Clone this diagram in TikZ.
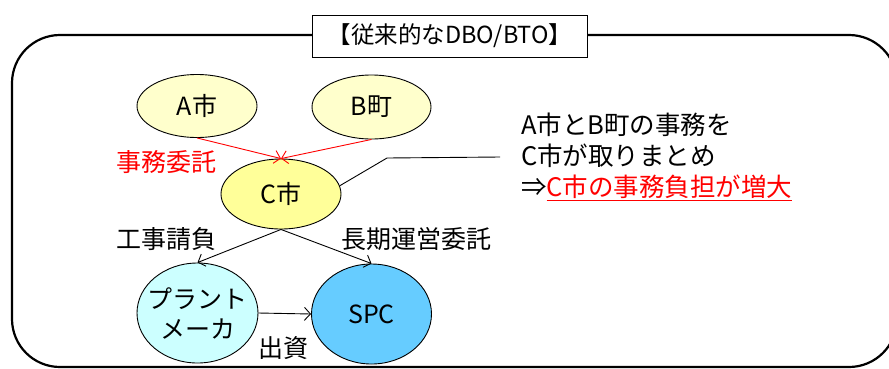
\documentclass[tikz,border=0pt]{standalone}
\usepackage{fontspec}
\setmainfont{Noto Sans CJK JP}
\usetikzlibrary{shapes.geometric,arrows.meta}
\definecolor{ylight}{HTML}{FFFFCC}
\definecolor{ymid}{HTML}{FFFF99}
\definecolor{cyanlight}{HTML}{CCFFFF}
\definecolor{spcblue}{HTML}{66CCFF}
\begin{document}
\begin{tikzpicture}[x=1pt,y=-1pt,
  bub/.style={ellipse,draw=black,line width=0.9pt,inner sep=0pt,font=\fontsize{25}{30}\selectfont},
  lbl/.style={font=\fontsize{25}{30}\selectfont,inner sep=0pt},
  arr/.style={line width=0.9pt,-{Straight Barb[length=6pt,width=13pt]}}]
\useasboundingbox (0,0) rectangle (889,368);
\draw[line width=2.2pt,rounded corners=48pt] (12,35) rectangle (897,367);
\node[draw=black,fill=white,line width=1pt,minimum width=275pt,minimum height=42pt,inner sep=0pt,font=\fontsize{23.5}{28}\selectfont] (title) at (450,36) {【従来的なDBO/BTO】};
\node[bub,fill=ylight,minimum width=120pt,minimum height=63pt] (A) at (197,106) {A市};
\node[bub,fill=ylight,minimum width=119pt,minimum height=64pt] (B) at (371.5,107) {B町};
\node[bub,fill=ymid,minimum width=120pt,minimum height=70pt] (C) at (281,194) {C市};
\node[bub,fill=cyanlight,minimum width=121pt,minimum height=100pt] (P) at (197.5,313) {};
\node[lbl,align=center,font=\fontsize{25}{30}\selectfont] (Ptext) at (P.center) {プラント\\メーカ};
\node[bub,fill=spcblue,minimum width=120pt,minimum height=100pt] (S) at (371.5,314) {SPC};
\draw[arr,red] (A.south) -- (C.north);
\draw[arr,red] (B.south) -- (C.north);
\draw[arr] (C.south) -- (P.north);
\draw[arr] (C.south) -- (S.north);
\draw[arr] (P.east) -- (S.west);
\node[lbl,text=red] (l1) at (166,162) {事務委託};
\node[lbl] (l2) at (166,239) {工事請負};
\node[lbl] (l3) at (416,239) {長期運営委託};
\node[lbl] (l4) at (283,348) {出資};
\node[anchor=west,align=left,inner sep=0pt,font=\fontsize{25.5}{31}\selectfont] (note) at (521,157) {A市とB町の事務を\\C市が取りまとめ\\⇒\textcolor{red}{\underline{C市の事務負担が増大}}};
\coordinate (bend) at (387,158);
\coordinate (lend) at (500,157);
\draw[line width=0.9pt] (C.8) -- (bend) -- (lend);
\end{tikzpicture}
\end{document}
